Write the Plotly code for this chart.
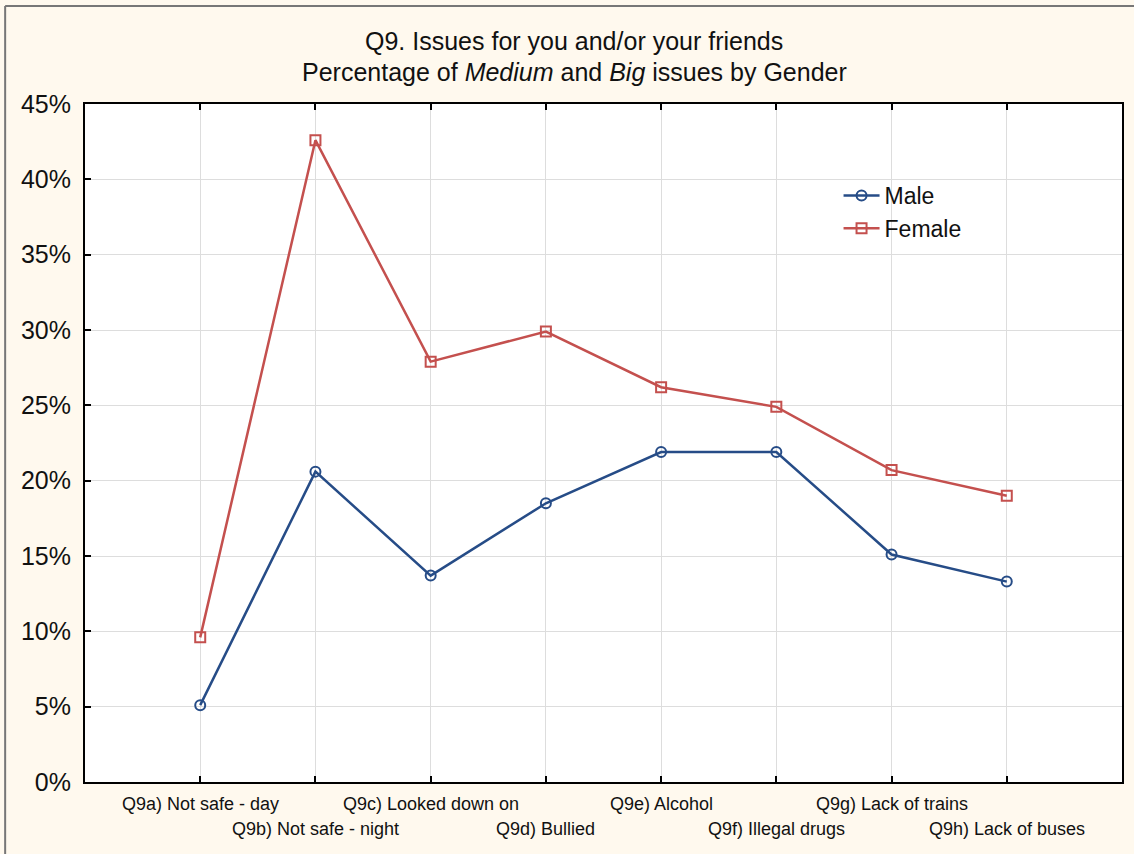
import plotly.graph_objects as go

categories = ["Q9a) Not safe - day", "Q9b) Not safe - night", "Q9c) Looked down on",
              "Q9d) Bullied", "Q9e) Alcohol", "Q9f) Illegal drugs",
              "Q9g) Lack of trains", "Q9h) Lack of buses"]
male = [5.1, 20.6, 13.7, 18.5, 21.9, 21.9, 15.1, 13.3]
female = [9.6, 42.6, 27.9, 29.9, 26.2, 24.9, 20.7, 19.0]
y_ticks = [0, 5, 10, 15, 20, 25, 30, 35, 40, 45]

W, H = 1134, 854
L, R, T, B = 85, 1124, 104, 782

FONT = "Liberation Sans, Arial, sans-serif"

xs = list(range(len(categories)))
fig = go.Figure()
fig.add_trace(go.Scatter(x=xs, y=male, name="Male", mode="lines+markers",
                         line=dict(color="#264C87", width=2.5),
                         marker=dict(symbol="circle-open", size=10, color="#264C87",
                                     line=dict(width=2, color="#264C87"))))
fig.add_trace(go.Scatter(x=xs, y=female, name="Female", mode="lines+markers",
                         line=dict(color="#C4504E", width=2.5),
                         marker=dict(symbol="square-open", size=10, color="#C4504E",
                                     line=dict(width=2, color="#C4504E"))))

pw, ph = R - L, B - T
def px(x):
    return (x - L) / pw
def py(y):
    return (B - y) / ph

annotations = []
for i, c in enumerate(categories):
    annotations.append(dict(x=i, xref="x", y=py(804 if i % 2 == 0 else 829), yref="paper",
                            text=c, showarrow=False, xanchor="center", yanchor="middle",
                            font=dict(family=FONT, size=18, color="#111")))
annotations.append(dict(x=px(575), xref="paper", y=py(41), yref="paper",
                        text="Q9. Issues for you and/or your friends", showarrow=False,
                        xanchor="center", yanchor="middle",
                        font=dict(family=FONT, size=25, color="#111")))
annotations.append(dict(x=px(575), xref="paper", y=py(72), yref="paper",
                        text="Percentage of <i>Medium</i> and <i>Big</i> issues by Gender",
                        showarrow=False, xanchor="center", yanchor="middle",
                        font=dict(family=FONT, size=25, color="#111")))

shapes = [
    dict(type="line", xref="paper", yref="paper", x0=px(5), x1=px(5), y0=py(6), y1=py(860),
         line=dict(color="#777", width=2)),
    dict(type="line", xref="paper", yref="paper", x0=px(5), x1=px(1140), y0=py(6), y1=py(6),
         line=dict(color="#777", width=2)),
]

fig.update_layout(
    width=W, height=H,
    margin=dict(l=L, r=W - R, t=T, b=H - B),
    paper_bgcolor="#FFF9EE", plot_bgcolor="white",
    showlegend=True,
    legend=dict(x=px(840), y=py(174), xanchor="left", yanchor="top",
                bgcolor="rgba(0,0,0,0)", font=dict(family=FONT, size=23, color="#111"),
                tracegroupgap=0, itemwidth=36),
    annotations=annotations, shapes=shapes,
    font=dict(family=FONT),
)
fig.update_xaxes(range=[-1, 8], tickvals=xs, showticklabels=False, showgrid=True,
                 gridcolor="#DDDDDD", gridwidth=1, zeroline=False,
                 showline=True, linecolor="black", linewidth=2, mirror="ticks",
                 ticks="inside", ticklen=6, tickcolor="black", tickwidth=2)
fig.update_yaxes(range=[0, 45], tickvals=y_ticks, ticktext=[f"{v}%" for v in y_ticks],
                 showgrid=True, gridcolor="#DDDDDD", gridwidth=1, zeroline=False,
                 showline=True, linecolor="black", linewidth=2, mirror=True,
                 ticks="inside", ticklen=6, tickcolor="black", tickwidth=2,
                 tickfont=dict(family=FONT, size=25, color="#111"),
                 ticklabelstandoff=7)
fig.write_html("out.html", config={"displayModeBar": False},
               post_script="document.body.style.margin='0px';")
